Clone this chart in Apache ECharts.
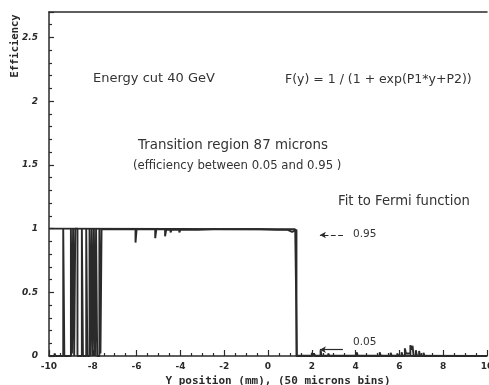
<!DOCTYPE html>
<html>
<head>
<meta charset="utf-8">
<script src="https://cdn.jsdelivr.net/npm/echarts@6/dist/echarts.min.js"></script>
<style>
html,body{margin:0;padding:0;background:#fff;}
#chart{width:489px;height:385px;}
</style>
</head>
<body>
<div id="chart"></div>
<script>
// Histogram (50 micron bins): left bin edge and efficiency value held until the next edge
const histEdges = [
  -10, -9.75, -9.7, -9.35, -9.3,
  -9.0, -8.95, -8.9, -8.85, -8.8, -8.75, -8.7,
  -8.5, -8.45, -8.3, -8.25,
  -8.15, -8.1, -8.05, -8.0,
  -7.95, -7.9, -7.85, -7.8,
  -7.7, -7.65, -7.6,
  -6.05, -6.0, -5.15, -5.1, -4.7, -4.65, -4.45, -4.4, -4.3, -4.25, -4.05, -4.0,
  -3.2, -3.15, -2.5, -2.45, -0.35, -0.3, 0.4, 0.45, 0.9, 1.1, 1.15,
  1.3, 1.5, 1.55, 2.0, 2.05, 2.1, 2.15, 2.4, 2.45, 2.75, 2.8, 3.05, 3.1,
  4.05, 4.1, 4.6, 4.65, 4.85, 4.9, 5.1, 5.15, 5.3, 5.35, 5.6, 5.65, 5.9, 5.95,
  6.1, 6.15, 6.25, 6.3, 6.5, 6.55, 6.6, 6.65, 6.75, 6.8, 6.9, 6.95, 7.1, 7.15,
  8.35, 8.4, 10
];
const histValues = [
  0, 0.02, 0, 1, 0,
  1, 0.02, 1, 0, 1, 1, 0,
  1, 0, 1, 0,
  1, 0, 1, 0,
  1, 0, 1, 0,
  1, 0.02, 0.995,
  0.89, 0.995, 0.925, 0.995, 0.94, 0.99, 0.97, 0.99, 0.975, 0.99, 0.97, 0.99,
  0.98, 0.995, 0.98, 0.995, 0.98, 0.99, 0.98, 0.99, 0.975, 0.98, 0.99,
  0, 0.015, 0, 0.025, 0, 0.02, 0, 0.045, 0, 0.02, 0, 0.015, 0,
  0.03, 0, 0.015, 0, 0.01, 0, 0.03, 0, 0.015, 0, 0.025, 0, 0.02, 0,
  0.03, 0, 0.06, 0.02, 0.085, 0.05, 0.08, 0, 0.045, 0, 0.04, 0, 0.025, 0,
  0.012, 0, 0
];
// Fermi function fit points
const fitX = [-10, 1.24, 1.28, 1.32, 10];
const fitY = [1, 0.995, 0.5, 0.005, 0];
// level markers
const levelValues = [0.95, 0.05];
const levelLabels = ['0.95', '0.05'];
const arrowFrom = 3.42, arrowTo = 2.37;
// axis ticks
const xTickLabels = ['-10','-8','-6','-4','-2','0','2','4','6','8','10'];
const yTickLabels = ['0','0.5','1','1.5','2','2.5'];

const histData = histEdges.map((x, i) => [x, histValues[i]]);
const fitData = fitX.map((x, i) => [x, fitY[i]]);

const ink = '#2a2a2a';
const chart = echarts.init(document.getElementById('chart'), null, {renderer: 'canvas'});
chart.setOption({
  animation: false,
  backgroundColor: '#fff',
  grid: {left: 49, right: 2, top: 12, bottom: 29, containLabel: false, outerBoundsMode: 'none'},
  xAxis: [{
    type: 'value', min: -10, max: 10, interval: 2,
    name: 'Y position (mm), (50 microns bins)',
    nameLocation: 'middle', nameGap: 17,
    nameTextStyle: {fontFamily: 'DejaVu Sans Mono', fontWeight: 'bold', fontSize: 11, color: ink, padding: [0, 0, 0, 20]},
    axisLine: {show: true, onZero: false, lineStyle: {color: ink, width: 1.5}},
    axisTick: {show: true, inside: true, length: 6, lineStyle: {color: ink, width: 1.2}},
    minorTick: {show: true, splitNumber: 4, length: 3, lineStyle: {color: ink, width: 1.2}},
    splitLine: {show: false}, minorSplitLine: {show: false},
    axisLabel: {
      margin: 6, fontFamily: 'DejaVu Sans', fontWeight: 'bold', fontSize: 9, color: ink,
      showMinLabel: true, showMaxLabel: true, hideOverlap: false,
      formatter: v => { const i = Math.round((v + 10) / 2); return xTickLabels[i] || ''; }
    }
  }, {
    type: 'value', min: -10, max: 10, position: 'top',
    axisLine: {show: true, onZero: false, lineStyle: {color: ink, width: 1.5}},
    axisTick: {show: false}, axisLabel: {show: false}, splitLine: {show: false}
  }],
  yAxis: {
    type: 'value', min: 0, max: 2.7, interval: 0.5,
    axisLine: {show: true, onZero: false, lineStyle: {color: ink, width: 1.5}},
    axisTick: {show: true, inside: true, length: 5, lineStyle: {color: ink, width: 1.2}},
    minorTick: {show: true, splitNumber: 5, length: 3, lineStyle: {color: ink, width: 1.2}},
    splitLine: {show: false}, minorSplitLine: {show: false},
    axisLabel: {
      margin: 11, fontFamily: 'DejaVu Sans', fontWeight: 'bold', fontStyle: 'italic', fontSize: 9, color: ink,
      formatter: v => { const k = v * 2; if (Math.abs(k - Math.round(k)) > 1e-6) return ''; return yTickLabels[Math.round(k)] || ''; }
    }
  },
  series: [{
    type: 'line', name: 'fit', data: fitData, showSymbol: false, symbol: 'none',
    lineStyle: {color: ink, width: 1.8}, z: 3,
    markLine: {
      silent: true, animation: false,
      data: levelValues.map((lv, i) => [
        {coord: [arrowFrom, lv], symbol: 'none', lineStyle: {type: i === 0 ? 'dashed' : 'solid', color: ink, width: 1.2}},
        {coord: [arrowTo, lv], symbol: 'arrow', symbolSize: [5, 6]}
      ]),
      label: {show: false}
    }
  }, {
    type: 'line', name: 'hist', data: histData, step: 'end', showSymbol: false, symbol: 'none',
    lineStyle: {color: ink, width: 1.9}, z: 2
  }],
  graphic: [
    {type: 'text', left: 93, top: 72, style: {text: 'Energy cut 40 GeV', font: '13px "DejaVu Sans"', fill: '#333'}},
    {type: 'text', left: 285, top: 73, style: {text: 'F(y) = 1 / (1 + exp(P1*y+P2))', font: '12.5px "DejaVu Sans"', fill: '#333'}},
    {type: 'text', left: 138, top: 139, style: {text: 'Transition region 87 microns', font: '13.4px "DejaVu Sans"', fill: '#333'}},
    {type: 'text', left: 133, top: 160, style: {text: '(efficiency between 0.05 and 0.95 )', font: '11.7px "DejaVu Sans"', fill: '#333'}},
    {type: 'text', left: 338, top: 195, style: {text: 'Fit to Fermi function', font: '13.2px "DejaVu Sans"', fill: '#333'}},
    {type: 'text', left: 353, top: 229, style: {text: levelLabels[0], font: '10.5px "DejaVu Sans"', fill: '#333'}},
    {type: 'text', left: 353, top: 337, style: {text: levelLabels[1], font: '10.5px "DejaVu Sans"', fill: '#333'}},
    {type: 'text', x: 15, y: 46, rotation: Math.PI / 2,
      style: {text: 'Efficiency', font: 'bold 10.5px "DejaVu Sans Mono"', fill: ink, textAlign: 'center', textVerticalAlign: 'middle'}}
  ]
});
</script>
</body>
</html>
